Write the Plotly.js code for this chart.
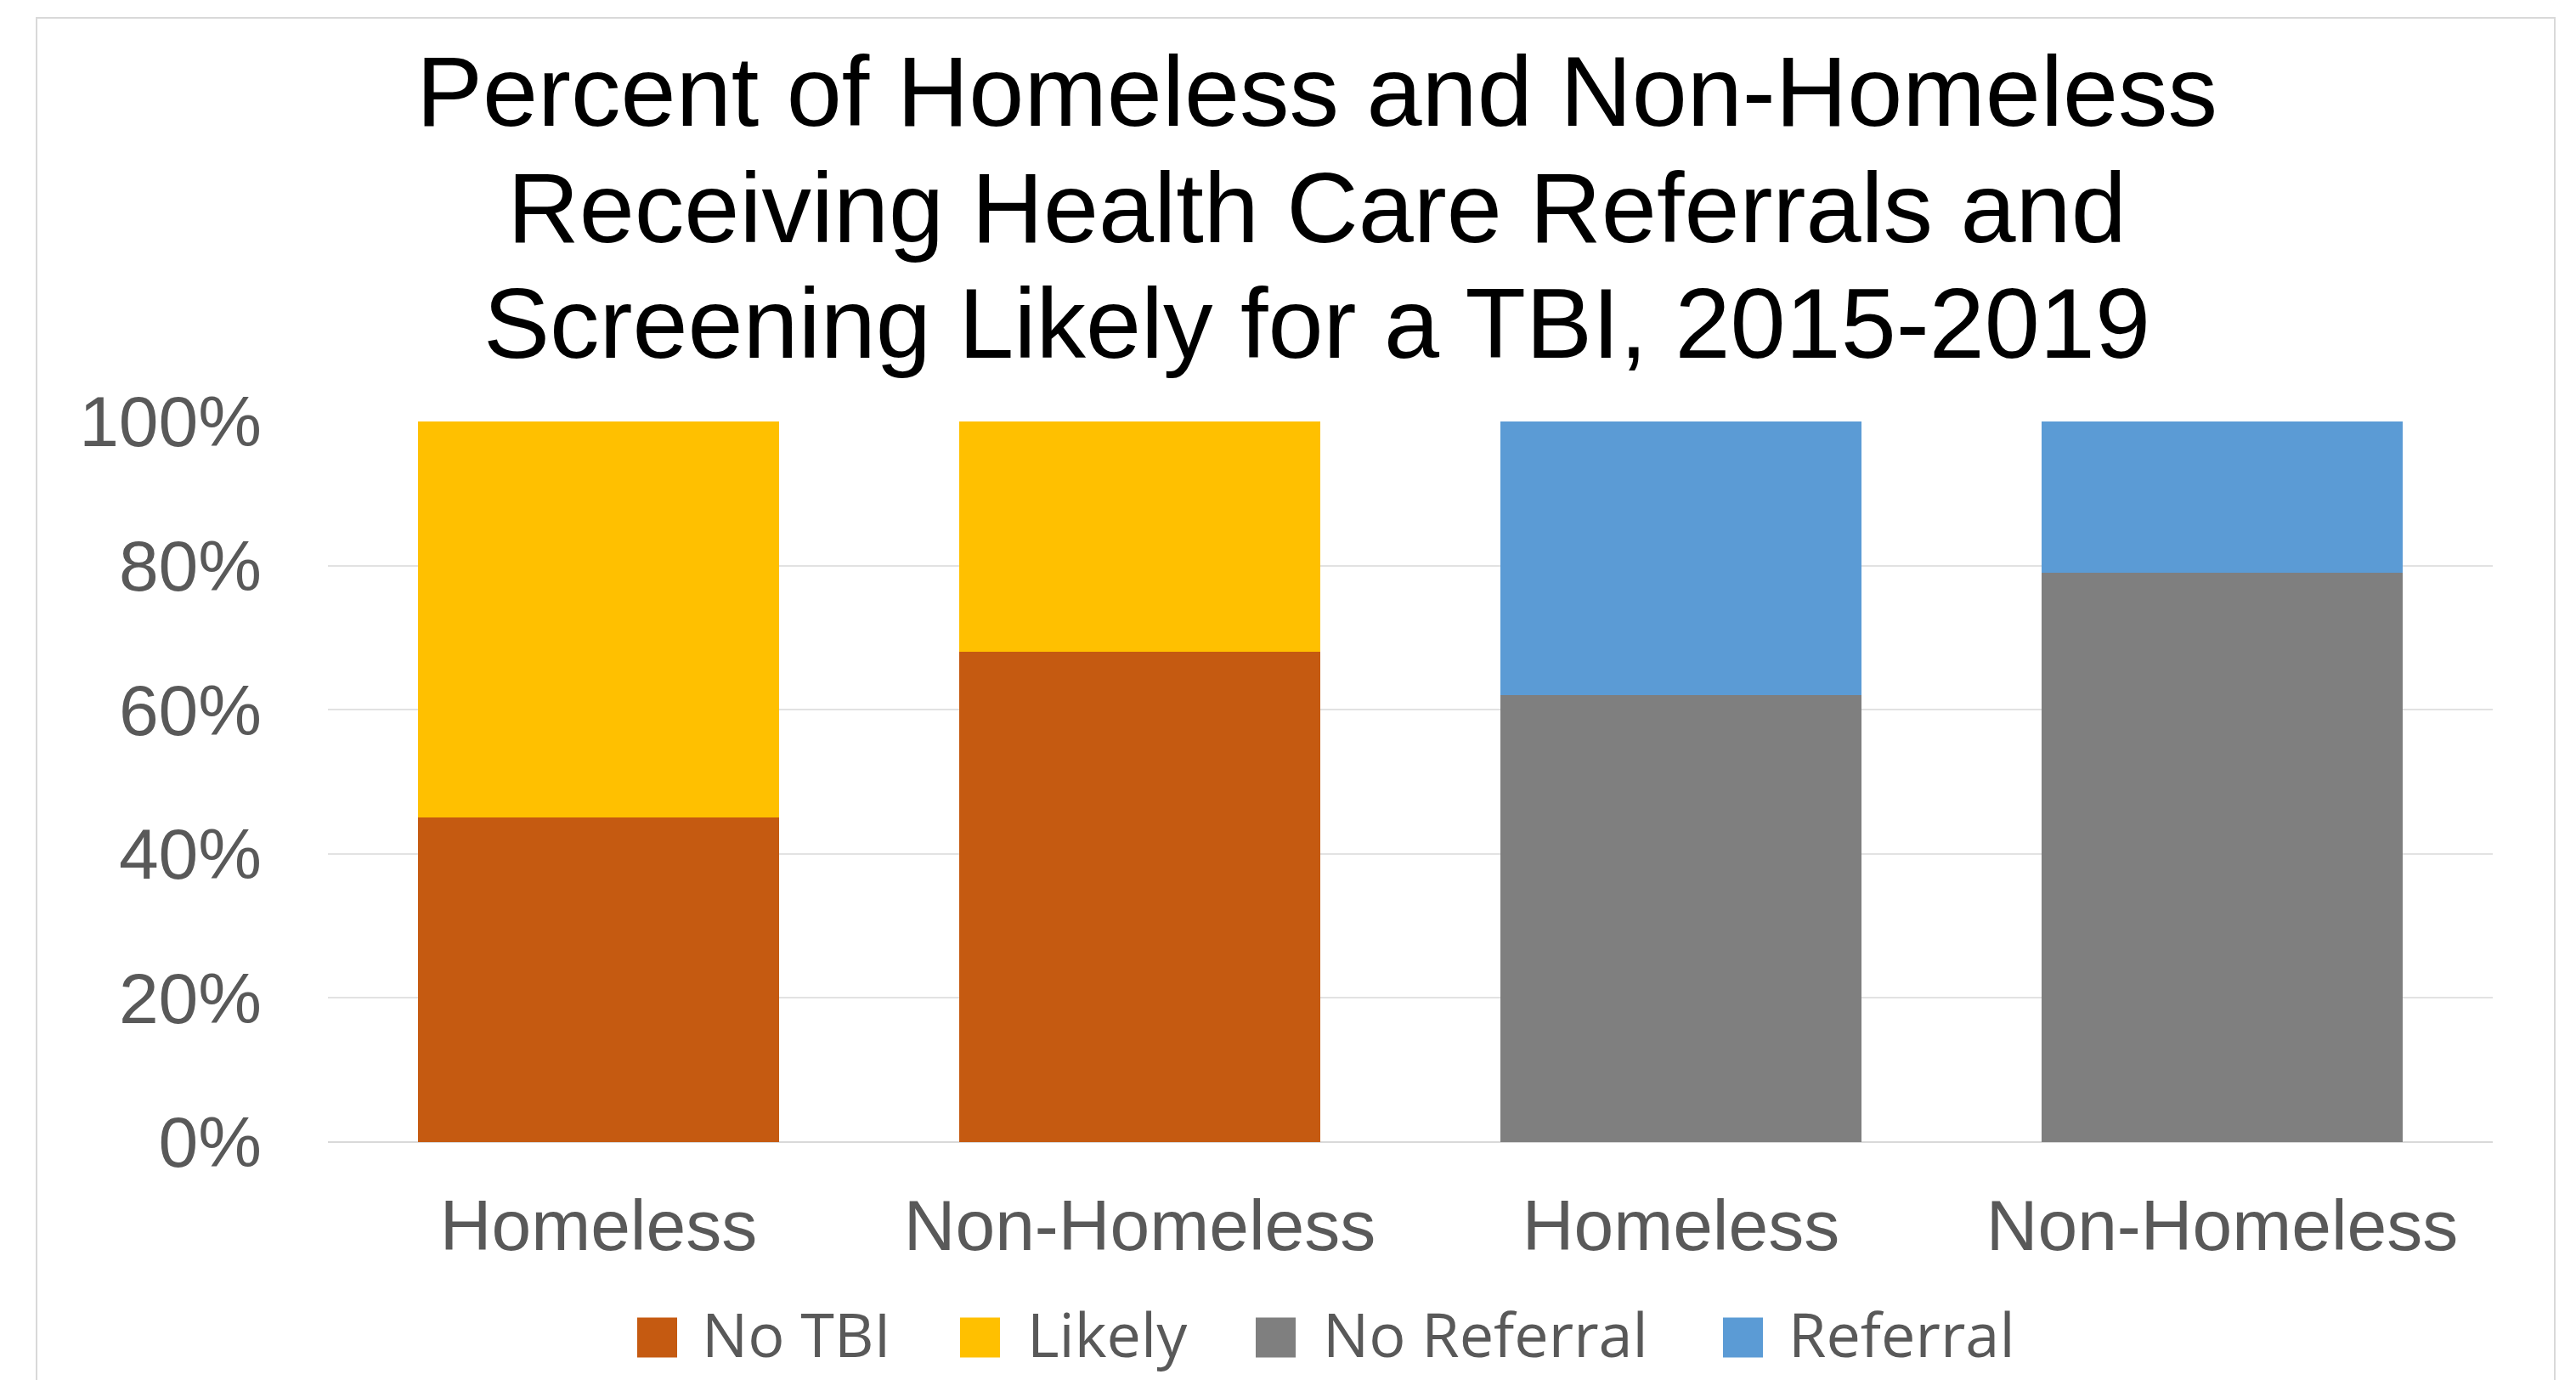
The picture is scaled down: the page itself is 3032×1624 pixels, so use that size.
<!DOCTYPE html>
<html>
<head>
<meta charset="utf-8">
<script src="https://cdn.plot.ly/plotly-3.0.1.min.js"></script>
<style>
html,body{margin:0;padding:0;background:#ffffff;}
#chart{width:3032px;height:1624px;}
</style>
</head>
<body>
<div id="chart"></div>
<script>
// ---- Data ----
const categories = ['Homeless', 'Non-Homeless', 'Homeless', 'Non-Homeless'];
const seriesNames = ['No TBI', 'Likely', 'No Referral', 'Referral'];
const noTBI      = [45, 68, null, null];
const likely     = [55, 32, null, null];
const noReferral = [null, null, 62, 79];
const referral   = [null, null, 38, 21];
const yTickVals  = [0, 20, 40, 60, 80, 100];
const yTickText  = ['0%', '20%', '40%', '60%', '80%', '100%'];
const titleLines = ['Percent of Homeless and Non-Homeless', 'Receiving Health Care Referrals and', 'Screening Likely for a TBI, 2015-2019'];

// ---- Styles ----
const seriesColors = ['#C55A11', '#FFC000', '#7F7F7F', '#5B9BD5'];
const W = 3032, H = 1624;
const L = 386, R = 2934, T = 496, B = 1344;
const px2x = p => (p - L) / (R - L);
const px2y = p => (B - p) / (B - T);

const xIdx = categories.map((c, i) => i);
const seriesValues = [noTBI, likely, noReferral, referral];

const traces = seriesValues.map((vals, k) => ({
  type: 'bar',
  name: seriesNames[k],
  x: xIdx,
  y: vals,
  width: 0.667,
  marker: {color: seriesColors[k], line: {width: 0}},
  showlegend: false,
  hoverinfo: 'name+y'
}));

// custom legend (large square swatches)
const swatchLeft = [750, 1130, 1478, 2028];
const textLeft = [824, 1207, 1555, 2103];
const swSize = 47, legCY = 1574;
const shapes = [];
const annotations = [];
seriesNames.forEach((n, k) => {
  shapes.push({
    type: 'rect', xref: 'paper', yref: 'paper', layer: 'above',
    x0: px2x(swatchLeft[k]), x1: px2x(swatchLeft[k] + swSize),
    y0: px2y(legCY + swSize / 2), y1: px2y(legCY - swSize / 2),
    fillcolor: seriesColors[k], line: {width: 0}
  });
  annotations.push({
    xref: 'paper', yref: 'paper', x: px2x(textLeft[k]), y: px2y(1569),
    xanchor: 'left', yanchor: 'middle', showarrow: false, text: n,
    font: {family: 'Open Sans, Noto Sans, sans-serif', size: 72, color: '#595959'}
  });
});
// chart area border
shapes.push({
  type: 'rect', xref: 'paper', yref: 'paper', layer: 'below',
  x0: px2x(43), x1: px2x(3007), y0: px2y(1660), y1: px2y(21),
  line: {color: '#d9d9d9', width: 2}, fillcolor: 'rgba(0,0,0,0)'
});

const layout = {
  width: W, height: H,
  paper_bgcolor: '#ffffff', plot_bgcolor: '#ffffff',
  margin: {l: L, r: W - R, t: T, b: H - B, pad: 0},
  barmode: 'stack',
  title: {
    text: titleLines.map(s => '<span style="font-size:117px">' + s + '</span>').join('<br>'),
    font: {family: 'Liberation Sans, Arial, sans-serif', size: 105, color: '#000000'},
    xref: 'container', yref: 'container',
    x: 1550 / W, xanchor: 'center',
    y: 1 - 148 / H, yanchor: 'top'
  },
  xaxis: {
    range: [-0.5, 3.5],
    tickvals: xIdx, ticktext: categories,
    showgrid: false, zeroline: false, showline: false, ticks: '',
    ticklabelstandoff: 42,
    tickfont: {family: 'Liberation Sans, Arial, sans-serif', size: 84, color: '#595959'},
    fixedrange: true
  },
  yaxis: {
    range: [0, 100],
    tickvals: yTickVals, ticktext: yTickText,
    showgrid: true, gridcolor: '#e2e2e2', gridwidth: 2,
    zeroline: true, zerolinecolor: '#d9d9d9', zerolinewidth: 2,
    showline: false, ticks: '',
    ticklabelstandoff: 77,
    tickfont: {family: 'Liberation Sans, Arial, sans-serif', size: 84, color: '#595959'},
    fixedrange: true
  },
  shapes: shapes,
  annotations: annotations,
  showlegend: false
};

Plotly.newPlot('chart', traces, layout, {displayModeBar: false, staticPlot: true});
</script>
</body>
</html>
